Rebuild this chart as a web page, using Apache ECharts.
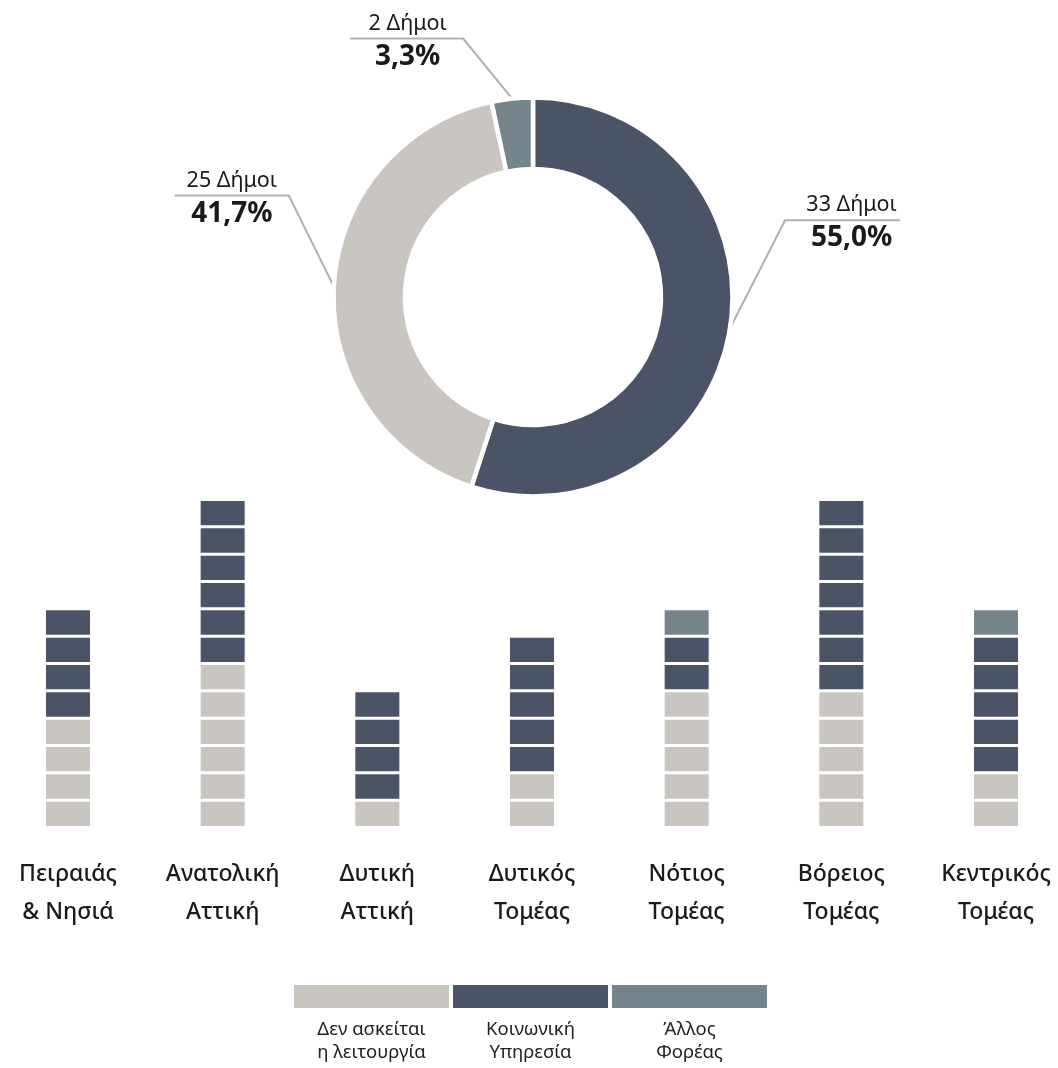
<!DOCTYPE html>
<html>
<head>
<meta charset="utf-8">
<title>Δήμοι</title>
<script src="https://cdn.jsdelivr.net/npm/echarts@6/dist/echarts.min.js"></script>
<style>
html,body{margin:0;padding:0;background:#fff;}
#main{width:1058px;height:1068px;}
</style>
</head>
<body>
<div id="main"></div>
<script>
// κατηγορίες και τιμές
var typeNames = ['Δεν ασκείται\nη λειτουργία', 'Κοινωνική\nΥπηρεσία', 'Άλλος\nΦορέας'];
var typeColors = ['#c9c6c2', '#4b5366', '#74868c'];
var regions = ['Πειραιάς\n& Νησιά', 'Ανατολική\nΑττική', 'Δυτική\nΑττική', 'Δυτικός\nΤομέας',
  'Νότιος\nΤομέας', 'Βόρειος\nΤομέας', 'Κεντρικός\nΤομέας'];
var noService = [4, 6, 1, 2, 5, 5, 2];
var social    = [4, 6, 4, 5, 2, 7, 5];
var other     = [0, 0, 0, 0, 1, 0, 1];
var pieOrder  = [1, 0, 2]; // σειρά στο ντόνατ, δεξιόστροφα από πάνω

// γεωμετρία ετικετών ντόνατ: [dx αγκώνα, dy αγκώνα, μήκος οριζόντιας, μετατόπιση κειμένου]
var pieLabelGeo = [[55, -108, 115, 9], [-45, -91, 114, 0], [-49, -60, 113, 1]];

function sum(a){ return a.reduce(function(s, v){ return s + v; }, 0); }
var series3 = [noService, social, other];
var totals = series3.map(sum);
var grand = sum(totals);

var pieData = pieOrder.map(function(t){
  return { name: typeNames[t].replace('\n', ' '), value: totals[t], itemStyle: { color: typeColors[t] } };
});

// ένα κουτάκι για κάθε δήμο
function blockData(t){
  var out = [];
  regions.forEach(function(r, i){
    var start = 0;
    for (var s = 0; s < t; s++) start += series3[s][i];
    for (var k = 0; k < series3[t][i]; k++) out.push([i, start + k]);
  });
  return out;
}

function renderBlock(params, api){
  var c = api.value(0), k = api.value(1);
  var p0 = api.coord([c, k]);
  var p1 = api.coord([c, k + 1]);
  var w = 44, gap = 3;
  return {
    type: 'rect',
    shape: { x: p0[0] - w / 2, y: p1[1] + gap, width: w, height: p0[1] - p1[1] - gap },
    style: { fill: api.visual('color') }
  };
}

var chart = echarts.init(document.getElementById('main'));

var option = {
  animation: false,
  textStyle: { fontFamily: 'Noto Sans' },
  grid: [
    { left: 68, right: 62, top: 498, bottom: 242 },
    { left: 292, right: 289, top: 985, height: 23 }
  ],
  xAxis: [
    {
      type: 'category', data: regions, boundaryGap: false,
      axisLine: { show: false }, axisTick: { show: false },
      axisLabel: { interval: 0, margin: 29, fontSize: 23, lineHeight: 38, color: '#1a1a1a', fontWeight: 500 }
    },
    {
      type: 'category', gridIndex: 1, data: typeNames,
      axisLine: { show: false }, axisTick: { show: false },
      axisLabel: { interval: 0, margin: 10, fontSize: 18.5, lineHeight: 23, color: '#222' }
    }
  ],
  yAxis: [
    { type: 'value', min: 0, max: 12, show: false, splitLine: { show: false } },
    { type: 'value', gridIndex: 1, min: 0, max: 1, show: false, splitLine: { show: false } }
  ],
  series: [
    {
      type: 'pie',
      center: [533, 297],
      radius: [128, 199.5],
      startAngle: 90,
      avoidLabelOverlap: false,
      silent: true,
      itemStyle: { borderColor: '#fff', borderWidth: 4.5 },
      data: pieData,
      label: {
        position: 'outside',
        formatter: function(p){
          var pct = (p.value / grand * 100).toFixed(1).replace('.', ',');
          return '{a|' + p.value + ' Δήμοι}\n{b|' + pct + '%}';
        },
        rich: {
          a: { fontSize: 21.5, lineHeight: 30, color: '#1a1a1a', fontFamily: 'Noto Sans' },
          b: { fontSize: 28, lineHeight: 36, fontWeight: 'bold', color: '#1a1a1a', fontFamily: 'Noto Sans' }
        }
      },
      labelLine: { show: true, length: 20, length2: 20, lineStyle: { color: '#b8afa4', width: 2 } },
      labelLayout: function(p){
        var pts = p.labelLinePoints;
        if (!pts) return {};
        var g = pieLabelGeo[p.dataIndex];
        var x0 = pts[0][0], y0 = pts[0][1];
        var ex = x0 + g[0], ey = y0 + g[1];
        var dir = g[0] > 0 ? 1 : -1;
        var hx = ex + dir * g[2];
        return {
          x: (ex + hx) / 2 + g[3],
          y: ey + 3,
          align: 'center',
          verticalAlign: 'middle',
          labelLinePoints: [[x0, y0], [ex, ey], [hx, ey]]
        };
      }
    }
  ].concat([0, 1, 2].map(function(t){
    return {
      type: 'custom',
      name: typeNames[t],
      renderItem: renderBlock,
      itemStyle: { color: typeColors[t] },
      encode: { x: 0, y: 1 },
      silent: true,
      data: blockData(t)
    };
  })).concat([{
    type: 'bar',
    xAxisIndex: 1, yAxisIndex: 1,
    barWidth: 155,
    silent: true,
    data: typeColors.map(function(c){ return { value: 1, itemStyle: { color: c } }; })
  }])
};

chart.setOption(option);
</script>
</body>
</html>
